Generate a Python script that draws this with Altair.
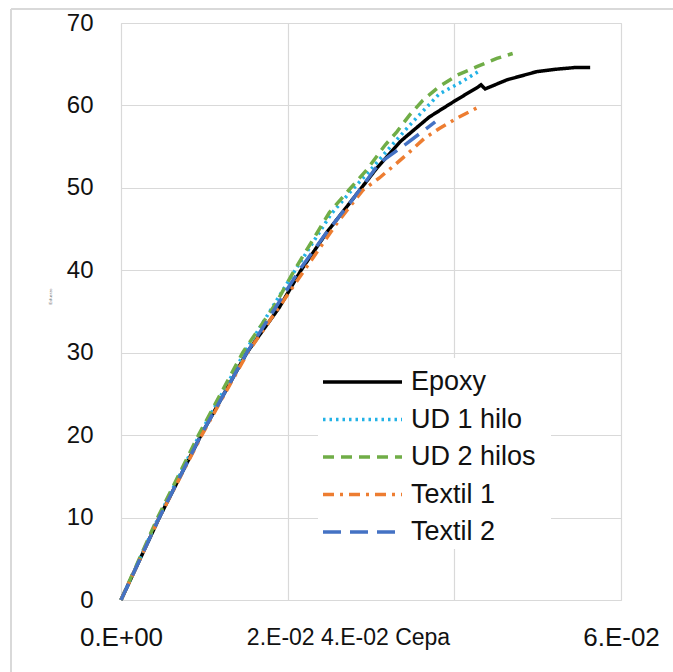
import altair as alt
import pandas as pd

series_names = ["Epoxy", "UD 1 hilo", "UD 2 hilos", "Textil 1", "Textil 2"]
series_colors = ["#000000", "#22b2e6", "#70ad47", "#ed7d31", "#4472c4"]
series_dash = [[1, 0], [2.5, 4], [11, 7], [11, 6, 3, 6], [18, 9]]

epoxy_x = [0, 0.0046, 0.0096, 0.0151, 0.0190, 0.0216, 0.0247, 0.0274, 0.0307, 0.0335,
           0.0343, 0.0370, 0.0403, 0.0428, 0.0432, 0.0437, 0.0463, 0.0499, 0.0523, 0.0545, 0.0563]
epoxy_y = [0, 10, 20, 30, 35.5, 40, 44.6, 48.1, 52.4, 55.6,
           56.3, 58.6, 60.7, 62.2, 62.5, 62.0, 63.1, 64.1, 64.4, 64.6, 64.6]

ud1_x = [0, 0.0045, 0.0094, 0.0148, 0.0209, 0.0252, 0.0276, 0.0298, 0.0320, 0.0350, 0.0382, 0.0406, 0.0432]
ud1_y = [0, 10, 20, 30, 40, 46.8, 49.6, 52.0, 54.6, 58.0, 61.4, 62.7, 64.3]

ud2_x = [0, 0.0044, 0.0093, 0.0146, 0.0186, 0.0208, 0.0250, 0.0274, 0.0295, 0.0317,
         0.0331, 0.0346, 0.0362, 0.0382, 0.0404, 0.0427, 0.0451, 0.0470]
ud2_y = [0, 10, 20, 30, 36.0, 40, 47.0, 49.8, 52.2, 55.2,
         56.8, 58.8, 60.6, 62.3, 63.7, 64.7, 65.7, 66.3]

tex1_x = [0, 0.0046, 0.0097, 0.0152, 0.0218, 0.0259, 0.0290, 0.0310, 0.0331, 0.0349, 0.0364, 0.0382, 0.0404, 0.0427]
tex1_y = [0, 10, 20, 30, 39.7, 45.7, 49.7, 51.2, 53.0, 54.6, 56.0, 57.2, 58.5, 59.7]

tex2_x = [0, 0.0046, 0.0096, 0.0151, 0.0214, 0.0246, 0.0275, 0.0310, 0.0343, 0.0377]
tex2_y = [0, 10, 20, 30, 40, 44.5, 48.2, 53.0, 55.4, 58.0]

x_ticks = [0, 0.02, 0.04, 0.06]
y_ticks = [0, 10, 20, 30, 40, 50, 60, 70]

rows = []
for name, xs, ys in zip(series_names,
                        [epoxy_x, ud1_x, ud2_x, tex1_x, tex2_x],
                        [epoxy_y, ud1_y, ud2_y, tex1_y, tex2_y]):
    for i, (a, b) in enumerate(zip(xs, ys)):
        rows.append({"serie": name, "strain": a, "stress": b, "i": i})
df = pd.DataFrame(rows)
legend_df = pd.DataFrame({"serie": series_names})

FONT = "Liberation Sans"
color_scale = alt.Scale(domain=series_names, range=series_colors)
dash_scale = alt.Scale(domain=series_names, range=series_dash)

lines = alt.Chart(df).mark_line(strokeWidth=3.5, clip=False).encode(
    x=alt.X("strain:Q",
            scale=alt.Scale(domain=[0, 0.06], nice=False, zero=False),
            axis=alt.Axis(values=x_ticks, grid=True, domain=False, ticks=False,
                          labelExpr="datum.value == 0 ? '0.E+00' : (abs(datum.value - 0.06) < 1e-9 ? '6.E-02' : '')",
                          labelFontSize=26, labelPadding=24, labelColor="#111111",
                          labelFont=FONT, labelFlush=False, labelOverlap=False,
                          title="2.E-02 4.E-02 Cepa", titleFontSize=23, titleFontWeight="normal",
                          titleFont=FONT, titleColor="#111111", titleLimit=1000,
                          titleX=227, titleY=37, titleAlign="center", titleBaseline="middle")),
    y=alt.Y("stress:Q",
            scale=alt.Scale(domain=[0, 70], nice=False),
            axis=alt.Axis(values=y_ticks, grid=True, domain=False, ticks=False,
                          labelFontSize=24, labelPadding=28, labelColor="#111111",
                          labelFont=FONT,
                          title="Esfuerzo", titleFontSize=4, titleFontWeight="normal",
                          titleColor="#666666", titleFont=FONT,
                          titleX=-71, titleY=273, titleAlign="center", titleBaseline="middle")),
    color=alt.Color("serie:N", scale=color_scale, legend=None),
    strokeDash=alt.StrokeDash("serie:N", scale=dash_scale, legend=None),
    order="i:Q",
    detail="serie:N",
)

# legend box (white background) and entries
legend_bg = alt.Chart(legend_df).mark_rect(fill="white", stroke=None).encode(
    x=alt.value(197), x2=alt.value(430), y=alt.value(335), y2=alt.value(526))

legend_y = alt.Y("serie:N", scale=alt.Scale(domain=series_names, range=[359, 509], type="point", padding=0),
                 axis=None)

legend_sym = alt.Chart(legend_df).mark_rule(strokeWidth=3.5).encode(
    x=alt.value(202), x2=alt.value(281),
    y=legend_y,
    color=alt.Color("serie:N", scale=color_scale, legend=None),
    strokeDash=alt.StrokeDash("serie:N", scale=dash_scale, legend=None),
)

legend_txt = alt.Chart(legend_df).mark_text(align="left", baseline="middle", fontSize=27,
                                            font=FONT, color="#111111").encode(
    x=alt.value(290),
    y=legend_y,
    text="serie:N",
)

legend = alt.layer(legend_bg, legend_sym, legend_txt)

border_top = alt.Chart(legend_df).mark_rule(color="#d9d9d9", strokeWidth=1.5, clip=False).encode(
    x=alt.value(-110), x2=alt.value(560), y=alt.value(-14))
border_left = alt.Chart(legend_df).mark_rule(color="#d9d9d9", strokeWidth=1.5, clip=False).encode(
    x=alt.value(-110), y=alt.value(-14), y2=alt.value(660))

chart = alt.layer(border_top, border_left, lines, legend).resolve_scale(
    y="independent"
).properties(
    width=500, height=577,
    autosize=alt.AutoSizeParams(type="none"),
    padding={"left": 121, "top": 23, "right": 52, "bottom": 72},
    background="white",
).configure_view(stroke="#d9d9d9", strokeWidth=1).configure_axis(
    gridColor="#d9d9d9", gridWidth=1.2
)

chart.save("out.html", embed_options={"renderer": "svg", "actions": False})
